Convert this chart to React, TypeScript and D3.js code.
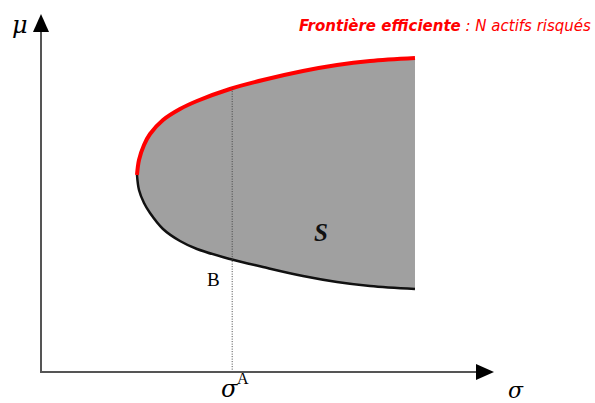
import React, { useRef, useEffect } from 'react';
import * as d3 from 'd3';

// frontier, in (sigma, mu) units
const branchSigma = [2.124, 2.168, 2.279, 2.412, 2.699, 3.075, 3.451, 4.181, 4.912, 5.796, 6.549, 7.279, 8.274];
const upperMu = [5.597, 6.023, 6.449, 6.761, 7.159, 7.472, 7.699, 8.040, 8.295, 8.551, 8.722, 8.835, 8.920];
const lowerMu = [5.597, 5.170, 4.801, 4.517, 4.063, 3.722, 3.494, 3.210, 2.983, 2.727, 2.557, 2.443, 2.358];
const sigmaA = 4.23;
const sigmaA_top = 8.05;

const W = 595;
const H = 403;

const App = () => {
    const svgRef = useRef<SVGSVGElement>(null);

    useEffect(() => {
        const svg = d3.select(svgRef.current);
        svg.selectAll('*').remove();

        // scales
        const x = d3.scaleLinear().domain([0, 10]).range([41, 493]);
        const y = d3.scaleLinear().domain([0, 10]).range([372, 20]);

        const upper = branchSigma.map((s, i) => [s, upperMu[i]] as [number, number]);
        const lower = branchSigma.map((s, i) => [s, lowerMu[i]] as [number, number]);

        // lower reversed then upper, so the curve goes round the vertex
        const outline = lower.slice().reverse().concat(upper.slice(1));

        const line = d3.line<[number, number]>()
            .x(d => x(d[0]))
            .y(d => y(d[1]))
            .curve(d3.curveCatmullRom.alpha(0.5));

        // gray set S
        svg.append('path')
            .attr('d', line(outline) + 'Z')
            .attr('fill', '#a0a0a0')
            .attr('stroke', 'none');

        // lower (inefficient) branch
        svg.append('path')
            .attr('d', line(lower))
            .attr('fill', 'none')
            .attr('stroke', '#111')
            .attr('stroke-width', 2.5);

        // efficient frontier
        svg.append('path')
            .attr('d', line(upper))
            .attr('fill', 'none')
            .attr('stroke', '#ff0000')
            .attr('stroke-width', 4);

        // dotted sigma A line
        svg.append('line')
            .attr('x1', x(sigmaA)).attr('x2', x(sigmaA))
            .attr('y1', y(sigmaA_top)).attr('y2', y(0))
            .attr('stroke', '#444')
            .attr('stroke-width', 1)
            .attr('stroke-dasharray', '1,1.5');

        // axes
        svg.append('line')
            .attr('x1', x(0)).attr('x2', x(0))
            .attr('y1', y(0) + 1).attr('y2', 30)
            .attr('stroke', '#555')
            .attr('stroke-width', 2);
        svg.append('line')
            .attr('x1', x(0) - 1).attr('x2', 478)
            .attr('y1', y(0)).attr('y2', y(0))
            .attr('stroke', '#555')
            .attr('stroke-width', 2);

        // arrow heads
        svg.append('path')
            .attr('d', `M${x(0)},14 L${x(0) - 8},32 L${x(0) + 8},32 Z`)
            .attr('fill', '#000');
        svg.append('path')
            .attr('d', `M494,${y(0)} L476,${y(0) - 8} L476,${y(0) + 8} Z`)
            .attr('fill', '#000');

        const serif = '"DejaVu Serif", "Liberation Serif", serif';

        svg.append('text')
            .attr('x', 12).attr('y', 33)
            .attr('font-family', serif)
            .attr('font-style', 'italic')
            .attr('font-size', 24)
            .text('μ');

        svg.append('text')
            .attr('x', 508).attr('y', 398)
            .attr('font-family', serif)
            .attr('font-style', 'italic')
            .attr('font-size', 22)
            .text('σ');

        svg.append('text')
            .attr('x', 221).attr('y', 397)
            .attr('font-family', serif)
            .attr('font-style', 'italic')
            .attr('font-size', 24)
            .text('σ');
        svg.append('text')
            .attr('x', 237).attr('y', 384)
            .attr('font-family', '"Liberation Serif", serif')
            .attr('font-size', 16)
            .text('A');

        svg.append('text')
            .attr('x', 207).attr('y', 286)
            .attr('font-family', '"Liberation Serif", serif')
            .attr('font-size', 19)
            .text('B');

        svg.append('text')
            .attr('x', 314).attr('y', 241)
            .attr('font-family', '"Liberation Serif", serif')
            .attr('font-style', 'italic')
            .attr('font-weight', 'bold')
            .attr('font-size', 25)
            .attr('fill', '#111')
            .text('S');

        // title
        const title = svg.append('text')
            .attr('x', 299).attr('y', 31)
            .attr('font-family', '"DejaVu Sans", sans-serif')
            .attr('font-style', 'italic')
            .attr('font-size', 15)
            .attr('fill', '#ff0000');
        title.append('tspan').attr('font-weight', 'bold').text('Frontière efficiente');
        title.append('tspan').text(' :  N actifs risqués');
    }, []);

    return (
        <svg
            ref={svgRef}
            width={W}
            height={H}
            style={{ position: 'absolute', left: 0, top: 0, background: '#fff' }}
        />
    );
};

export default App;
